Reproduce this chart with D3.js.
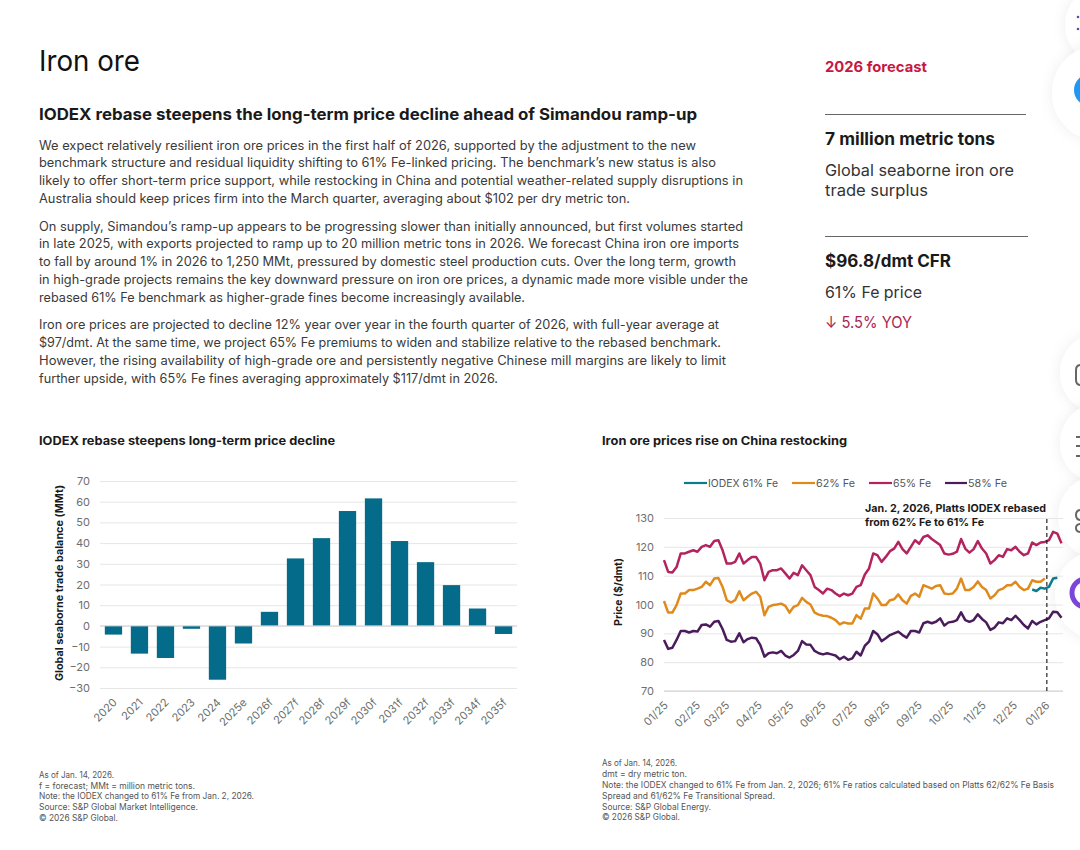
<!DOCTYPE html>
<html>
<head>
<meta charset="utf-8">
<title>Iron ore</title>
<script src="https://cdn.jsdelivr.net/npm/d3@7/dist/d3.min.js"></script>
<style>
  html, body { margin: 0; padding: 0; background: #fff; overflow: hidden; }
  svg { display: block; font-family: Inter, "Noto Sans", sans-serif; }
  .tick text { font-family: Inter, "Noto Sans", sans-serif; }
</style>
</head>
<body>
<div id="page"></div>
<script>
const balanceYears = ['2020', '2021', '2022', '2023', '2024', '2025e', '2026f', '2027f', '2028f', '2029f', '2030f', '2031f', '2032f', '2033f', '2034f', '2035f'];
const balanceValues = [-4.2, -13.4, -15.5, -1.4, -26, -8.5, 6.8, 32.6, 42.4, 55.5, 61.6, 41, 30.8, 19.7, 8.4, -3.9];
const balanceTicks = [70, 60, 50, 40, 30, 20, 10, 0, -10, -20, -30];

const priceDates = [
  '2025-01-01', '2025-01-05', '2025-01-09', '2025-01-13', '2025-01-17', '2025-01-21', '2025-01-25', '2025-01-29',
  '2025-02-02', '2025-02-06', '2025-02-10', '2025-02-14', '2025-02-18', '2025-02-22', '2025-02-26',
  '2025-03-02', '2025-03-06', '2025-03-10', '2025-03-14', '2025-03-18', '2025-03-22', '2025-03-26', '2025-03-30',
  '2025-04-03', '2025-04-07', '2025-04-11', '2025-04-15', '2025-04-19', '2025-04-23', '2025-04-27',
  '2025-05-01', '2025-05-05', '2025-05-09', '2025-05-13', '2025-05-17', '2025-05-21', '2025-05-25', '2025-05-29',
  '2025-06-02', '2025-06-06', '2025-06-10', '2025-06-14', '2025-06-18', '2025-06-22', '2025-06-26', '2025-06-30',
  '2025-07-04', '2025-07-08', '2025-07-12', '2025-07-16', '2025-07-20', '2025-07-24', '2025-07-28',
  '2025-08-01', '2025-08-05', '2025-08-09', '2025-08-13', '2025-08-17', '2025-08-21', '2025-08-25', '2025-08-29',
  '2025-09-02', '2025-09-06', '2025-09-10', '2025-09-14', '2025-09-18', '2025-09-22', '2025-09-26', '2025-09-30',
  '2025-10-04', '2025-10-08', '2025-10-12', '2025-10-16', '2025-10-20', '2025-10-24', '2025-10-28',
  '2025-11-01', '2025-11-05', '2025-11-09', '2025-11-13', '2025-11-17', '2025-11-21', '2025-11-25', '2025-11-29',
  '2025-12-03', '2025-12-07', '2025-12-11', '2025-12-15', '2025-12-19', '2025-12-23', '2025-12-27', '2025-12-31',
  '2026-01-04', '2026-01-08', '2026-01-12', '2026-01-16'
];
const fe65 = [
  115.4, 111.3, 111.1, 113, 117.7, 117.7, 118.3, 118.8, 118.3, 120, 120.6, 120, 122, 122.3, 118.8, 114.2,
  114.2, 114.8, 117.7, 114.2, 115.4, 116.5, 116.5, 114.2, 108.4, 111.3, 111.9, 111.9, 112.5, 110.8, 109, 111, 110.2,
  113.6, 111.9, 110.2, 106.1, 105, 103.8, 105.5, 105, 103.8, 102.9, 103.8, 103.2, 103.8, 106.1, 106.7, 110.4, 112.5,
  117.7, 117.1, 114.8, 116.5, 118.5, 119.4, 121.7, 119.2, 117.7, 120, 122.3, 121.1, 123.4, 124, 122.7,
  121.7, 120.6, 117.7, 117.3, 117.6, 118.3, 122.7, 119.4, 118, 119.2, 122, 119.4, 117.7, 114.2, 115.4, 117.1, 116.5,
  119.2, 118.8, 120, 118.3, 117.1, 117.7, 121.5, 120.6, 121.5, 121.7, 122.3, 125.2, 124.6, 121.2
];
const fe62 = [
  101.2, 97.2, 97.2, 99.8, 103.8, 103.8, 105, 105, 105.5, 106.1, 107.9, 106.7, 109, 109.2, 106.1, 101.5,
  100.7, 101.5, 104.6, 101.5, 102.7, 103.8, 104.4, 102.7, 96.3, 99.2, 99.8, 100, 100.3, 99.5, 97.2, 99.2, 99.8,
  102.3, 100.9, 100, 97.2, 96.5, 96.1, 96, 95.4, 94.6, 93.1, 93.8, 93.4, 93.4, 96.3, 95.1, 98.6, 98.6,
  103.8, 102.1, 99.8, 99.8, 101.5, 101.8, 103.5, 101.5, 100.3, 103, 103.8, 102.7, 106.7, 106.1, 105.5,
  106.4, 106.7, 103.8, 103.6, 103.8, 105.5, 109, 105, 105, 106.1, 108, 106.1, 105, 102.1, 103.2, 105, 105.5,
  106.7, 106.7, 107.9, 106.1, 105, 105.5, 108.4, 107.9, 107.9, 109
];
const fe58 = [
  87.7, 84.6, 85, 87.7, 90.8, 90.8, 90.3, 90.8, 90.6, 92.9, 93.1, 92.3, 94, 94.3, 91.5, 87.7,
  87.1, 87.3, 90, 86.9, 88, 88.5, 88.3, 86, 81.9, 83.1, 83.4, 83.1, 83.9, 82.3, 81.6, 82.5, 83.9,
  87.3, 86.1, 86, 83.9, 83.1, 82.7, 83.1, 82.7, 82.3, 81, 81.9, 80.8, 81.3, 83.6, 82.3, 85.7, 87.1,
  90.8, 89.7, 87.3, 88.3, 89.4, 90, 90.6, 89.4, 88.5, 90.8, 90.8, 90.3, 93.5, 94, 93.5,
  94, 95.2, 92.7, 93.8, 94, 94.6, 97.3, 94.6, 94, 94.6, 96.6, 95, 93.8, 91.2, 92, 93.8, 93.5,
  95.2, 94.6, 96.1, 94.6, 92.9, 91.7, 94.3, 93.1, 94, 94.6, 95.2, 97.5, 97.3, 95.4
];
const iodexDates = ['2025-12-19', '2025-12-23', '2025-12-27', '2025-12-31', '2026-01-04', '2026-01-08', '2026-01-12'];
const iodex61 = [105.2, 104.7, 105.8, 105.5, 106.1, 109, 109.3];
const priceTicks = [130, 120, 110, 100, 90, 80, 70];
const monthTicks = ['2025-01-01', '2025-02-01', '2025-03-01', '2025-04-01', '2025-05-01', '2025-06-01', '2025-07-01', '2025-08-01', '2025-09-01', '2025-10-01', '2025-11-01', '2025-12-01', '2026-01-01'];

const para1 = [
  'We expect relatively resilient iron ore prices in the first half of 2026, supported by the adjustment to the new',
  'benchmark structure and residual liquidity shifting to 61% Fe-linked pricing. The benchmark’s new status is also',
  'likely to offer short-term price support, while restocking in China and potential weather-related supply disruptions in',
  'Australia should keep prices firm into the March quarter, averaging about $102 per dry metric ton.'
];
const para2 = [
  'On supply, Simandou’s ramp-up appears to be progressing slower than initially announced, but first volumes started',
  'in late 2025, with exports projected to ramp up to 20 million metric tons in 2026. We forecast China iron ore imports',
  'to fall by around 1% in 2026 to 1,250 MMt, pressured by domestic steel production cuts. Over the long term, growth',
  'in high-grade projects remains the key downward pressure on iron ore prices, a dynamic made more visible under the',
  'rebased 61% Fe benchmark as higher-grade fines become increasingly available.'
];
const para3 = [
  'Iron ore prices are projected to decline 12% year over year in the fourth quarter of 2026, with full-year average at',
  '$97/dmt. At the same time, we project 65% Fe premiums to widen and stabilize relative to the rebased benchmark.',
  'However, the rising availability of high-grade ore and persistently negative Chinese mill margins are likely to limit',
  'further upside, with 65% Fe fines averaging approximately $117/dmt in 2026.'
];
const notesLeft = [
  'As of Jan. 14, 2026.',
  'f = forecast; MMt = million metric tons.',
  'Note: the IODEX changed to 61% Fe from Jan. 2, 2026.',
  'Source: S&P Global Market Intelligence.',
  '© 2026 S&P Global.'
];
const notesRight = [
  'As of Jan. 14, 2026.',
  'dmt = dry metric ton.',
  'Note: the IODEX changed to 61% Fe from Jan. 2, 2026; 61% Fe ratios calculated based on Platts 62/62% Fe Basis',
  'Spread and 61/62% Fe Transitional Spread.',
  'Source: S&P Global Energy.',
  '© 2026 S&P Global.'
];

const TEAL = '#046c8a';
const IODEX_COLOR = '#0b7b8f';
const FE62_COLOR = '#e08a1c';
const FE65_COLOR = '#b3245f';
const FE58_COLOR = '#4a1c5c';
const INK = '#1a1a1a';
const BODY = '#3a3a3a';
const MUTED = '#6e6e6e';

const parseDate = d3.utcParse('%Y-%m-%d');
const svg = d3.select('#page').append('svg').attr('width', 1080).attr('height', 850);

// right edge is the target end of the line in the picture
function put(str, x, y, size, opts = {}) {
  const t = svg.append('text')
    .attr('x', x)
    .attr('y', y)
    .attr('font-size', size)
    .attr('font-weight', opts.weight || 400)
    .attr('fill', opts.fill || BODY)
    .text(str);
  if (opts.right) t.attr('textLength', opts.right - x).attr('lengthAdjust', 'spacingAndGlyphs');
  return t;
}

function putLines(lines, x, ys, rights, size, fill) {
  lines.forEach((line, i) => put(line, x, ys[i], size, { right: rights[i], fill }));
}

function drawHeader() {
  put('Iron ore', 39, 71, 29, { fill: '#111', right: 140 });
  put('IODEX rebase steepens the long-term price decline ahead of Simandou ramp-up', 39, 120, 16, { weight: 700, fill: INK, right: 697 });
  putLines(para1, 39, [150, 167, 185, 203], [696, 716, 743, 630], 12.6);
  putLines(para2, 39, [231, 248, 266, 284, 302], [743, 739, 736, 748, 525], 12.6);
  putLines(para3, 39, [329, 347, 365, 383], [719, 721, 726, 498], 12.6);
}

function drawSidebar() {
  put('2026 forecast', 825, 72, 14.5, { weight: 700, fill: '#c8173f', right: 927 });
  svg.append('line').attr('x1', 825).attr('x2', 1026).attr('y1', 114.5).attr('y2', 114.5).attr('stroke', '#666');
  put('7 million metric tons', 825, 145, 17, { weight: 700, fill: INK, right: 995 });
  put('Global seaborne iron ore', 825, 176, 16, { fill: '#333', right: 1014 });
  put('trade surplus', 825, 196, 16, { fill: '#333', right: 928 });
  svg.append('line').attr('x1', 825).attr('x2', 1028).attr('y1', 236.5).attr('y2', 236.5).attr('stroke', '#666');
  put('$96.8/dmt CFR', 825, 267, 17, { weight: 700, fill: INK, right: 951 });
  put('61% Fe price', 825, 298, 16, { fill: '#333', right: 922 });
  put('↓ 5.5% YOY', 825, 328, 16, { fill: '#ab2450', right: 912 });
}

function styleAxis(g) {
  g.select('.domain').remove();
  g.selectAll('.tick line').attr('stroke', '#e6e6e6');
  g.selectAll('.tick text').attr('fill', MUTED).attr('font-size', 11);
}

function rotateLabels(g) {
  g.selectAll('.tick text')
    .attr('text-anchor', 'end')
    .attr('dx', 0)
    .attr('dy', 0)
    .attr('transform', 'translate(2,13) rotate(-45)');
}

function renderBalance() {
  const margin = { top: 481, left: 100, right: 517, bottom: 688 };
  put('IODEX rebase steepens long-term price decline', 39, 445, 12, { weight: 700, fill: INK, right: 335 });

  const x = d3.scaleBand().domain(balanceYears).range([margin.left, margin.right]).paddingInner(0.335).paddingOuter(0.185);
  const y = d3.scaleLinear().domain([-30, 70]).range([margin.bottom, margin.top]);

  svg.append('g')
    .attr('transform', `translate(${margin.left},0)`)
    .call(d3.axisLeft(y).tickValues(balanceTicks).tickSize(-(margin.right - margin.left)).tickPadding(10))
    .call(styleAxis);

  svg.selectAll('.bal-bar')
    .data(balanceValues)
    .enter()
    .append('rect')
    .attr('class', 'bal-bar')
    .attr('x', (_, i) => x(balanceYears[i]))
    .attr('y', (d) => y(Math.max(0, d)))
    .attr('width', x.bandwidth())
    .attr('height', (d) => Math.abs(y(d) - y(0)))
    .attr('fill', TEAL);

  svg.append('line')
    .attr('x1', margin.left).attr('x2', margin.right)
    .attr('y1', y(0)).attr('y2', y(0))
    .attr('stroke', '#d4d4d4');

  svg.append('g')
    .attr('transform', `translate(0,${margin.bottom})`)
    .call(d3.axisBottom(x).tickSize(0))
    .call(styleAxis)
    .call(rotateLabels);

  svg.append('text')
    .attr('transform', 'translate(63,583) rotate(-90)')
    .attr('text-anchor', 'middle')
    .attr('font-size', 10.8)
    .attr('font-weight', 700)
    .attr('fill', INK)
    .text('Global seaborne trade balance  (MMt)');

  putLines(notesLeft, 39, [778, 789, 799, 810, 821], [114, 195, 254, 198, 118], 8.5, '#555');
}

function renderPrices() {
  const margin = { top: 518, left: 664, right: 1063, bottom: 691 };
  put('Iron ore prices rise on China restocking', 602, 445, 12, { weight: 700, fill: INK, right: 847 });

  const x = d3.scaleUtc()
    .domain([parseDate(priceDates[0]), parseDate(priceDates[priceDates.length - 1])])
    .range([margin.left, margin.right - 1.5]);
  const y = d3.scaleLinear().domain([70, 130]).range([margin.bottom, margin.top]);

  svg.append('g')
    .attr('transform', `translate(${margin.left},0)`)
    .call(d3.axisLeft(y).tickValues(priceTicks).tickSize(-(margin.right - margin.left)).tickPadding(10))
    .call(styleAxis);

  svg.append('line')
    .attr('x1', margin.left).attr('x2', margin.right)
    .attr('y1', y(70)).attr('y2', y(70))
    .attr('stroke', '#cfcfcf');

  svg.append('g')
    .attr('transform', `translate(0,${margin.bottom})`)
    .call(d3.axisBottom(x).tickValues(monthTicks.map(parseDate)).tickSize(0).tickFormat(d3.utcFormat('%m/%y')))
    .call(styleAxis)
    .call(rotateLabels);

  const line = d3.line()
    .x((d) => x(d.date))
    .y((d) => y(d.value));

  const series = [
    { dates: priceDates, values: fe65, color: FE65_COLOR },
    { dates: priceDates, values: fe62, color: FE62_COLOR },
    { dates: priceDates, values: fe58, color: FE58_COLOR },
    { dates: iodexDates, values: iodex61, color: IODEX_COLOR }
  ];
  series.forEach((s) => {
    svg.append('path')
      .datum(s.values.map((value, i) => ({ date: parseDate(s.dates[i]), value })))
      .attr('fill', 'none')
      .attr('stroke', s.color)
      .attr('stroke-width', 2.5)
      .attr('stroke-linejoin', 'round')
      .attr('d', line);
  });

  const rebaseX = x(parseDate('2026-01-02'));
  svg.append('line')
    .attr('x1', rebaseX).attr('x2', rebaseX)
    .attr('y1', 519).attr('y2', margin.bottom)
    .attr('stroke', '#111')
    .attr('stroke-width', 1.1)
    .attr('stroke-dasharray', '4 3');

  put('Jan. 2, 2026, Platts IODEX rebased', 865, 512, 10.5, { weight: 700, fill: INK, right: 1046 });
  put('from 62% Fe to 61% Fe', 865, 526, 10.5, { weight: 700, fill: INK, right: 984 });

  const legend = [
    { label: 'IODEX 61% Fe', color: IODEX_COLOR, x0: 684, x1: 707, end: 778 },
    { label: '62% Fe', color: FE62_COLOR, x0: 792, x1: 815, end: 855 },
    { label: '65% Fe', color: FE65_COLOR, x0: 869, x1: 892, end: 931 },
    { label: '58% Fe', color: FE58_COLOR, x0: 945, x1: 967, end: 1007 }
  ];
  legend.forEach((item) => {
    svg.append('line')
      .attr('x1', item.x0).attr('x2', item.x1)
      .attr('y1', 483).attr('y2', 483)
      .attr('stroke', item.color)
      .attr('stroke-width', 2.2);
    put(item.label, item.x1 + 1, 487, 10.5, { fill: '#555', right: item.end });
  });

  svg.append('text')
    .attr('transform', 'translate(622,592) rotate(-90)')
    .attr('text-anchor', 'middle')
    .attr('font-size', 10.5)
    .attr('font-weight', 700)
    .attr('fill', INK)
    .text('Price ($/dmt)');

  putLines(notesRight, 602, [766, 777, 788, 799, 810, 820], [677, 687, 1054, 775, 711, 680], 8.5, '#555');
}

// floating page widgets cut off by the right edge of the screenshot
function drawWidgets() {
  const defs = svg.append('defs');
  const shadow = defs.append('filter').attr('id', 'soft').attr('x', '-50%').attr('y', '-50%').attr('width', '200%').attr('height', '200%');
  shadow.append('feDropShadow').attr('dx', 0).attr('dy', 0).attr('stdDeviation', 7).attr('flood-color', '#000').attr('flood-opacity', 0.07);

  const bubbles = [[1105, 25, 40], [1100, 93, 48], [1100, 373, 40], [1100, 443, 40], [1100, 517, 42], [1100, 595, 45]];
  svg.selectAll('.bubble')
    .data(bubbles)
    .enter()
    .append('circle')
    .attr('class', 'bubble')
    .attr('cx', (d) => d[0])
    .attr('cy', (d) => d[1])
    .attr('r', (d) => d[2])
    .attr('fill', '#fff')
    .attr('filter', 'url(#soft)');

  svg.append('circle').attr('cx', 1090).attr('cy', 90).attr('r', 16).attr('fill', '#2196f3');
  svg.append('circle').attr('cx', 1078).attr('cy', 17).attr('r', 1.3).attr('fill', '#5a4fa0');
  svg.append('circle').attr('cx', 1078).attr('cy', 29).attr('r', 1.3).attr('fill', '#5a4fa0');
  svg.append('circle').attr('cx', 1086).attr('cy', 593).attr('r', 14).attr('fill', 'none').attr('stroke', '#7a45d8').attr('stroke-width', 5);

  svg.append('path').attr('d', 'M1081 365 Q1076 365 1076 370 L1076 380 Q1076 385 1081 385').attr('fill', 'none').attr('stroke', '#666').attr('stroke-width', 2);
  svg.append('path').attr('d', 'M1076 437 L1081 437 M1076 446 L1081 446 M1076 456 L1081 456').attr('fill', 'none').attr('stroke', '#666').attr('stroke-width', 2);
  svg.append('path').attr('d', 'M1081 510 Q1076 510 1076 515 Q1076 520 1081 520 M1081 524 Q1076 524 1076 528 Q1076 532 1081 532').attr('fill', 'none').attr('stroke', '#666').attr('stroke-width', 2);
}

drawWidgets();
drawHeader();
drawSidebar();
renderBalance();
renderPrices();
</script>
</body>
</html>
